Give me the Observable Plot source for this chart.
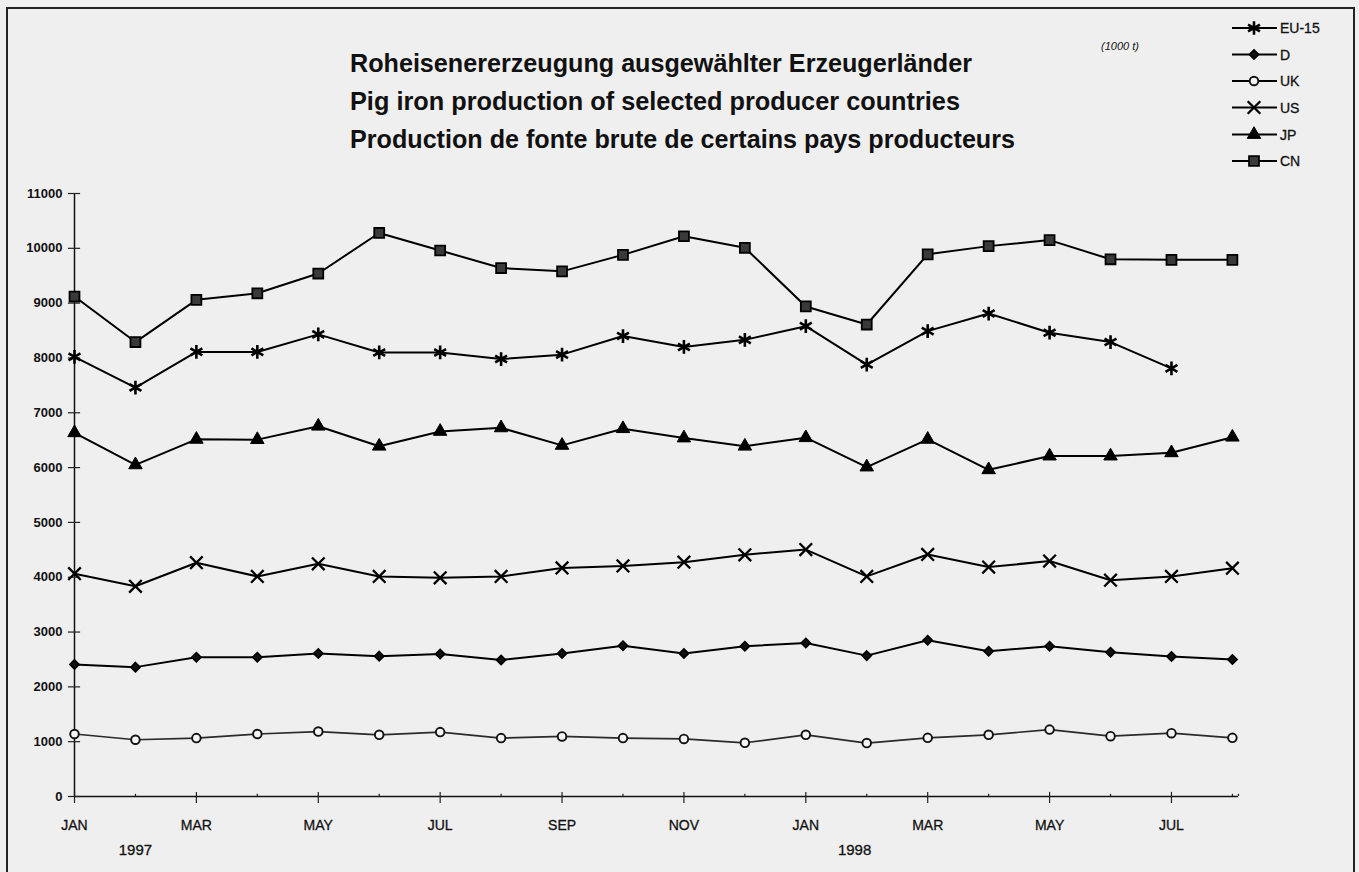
<!DOCTYPE html>
<html>
<head>
<meta charset="utf-8">
<script src="https://cdn.jsdelivr.net/npm/d3@7"></script>
<script src="https://cdn.jsdelivr.net/npm/@observablehq/plot@0.6"></script>
<style>
  html, body { margin: 0; padding: 0; background: #f4f4f4; }
  #wrap { position: relative; width: 1359px; height: 872px; background: #efefef; overflow: hidden; font-family: "Liberation Sans", Arial, sans-serif; }
  #frame { position: absolute; left: 6px; top: 7px; width: 1349px; height: 880px; border: 2px solid #222; box-sizing: border-box; }
  #chart { position: absolute; left: 0; top: 0; }
  #overlay { position: absolute; left: 0; top: 0; pointer-events: none; }
</style>
</head>
<body>
<div id="wrap">
  <div id="frame"></div>
  <div id="chart"></div>
  <svg id="overlay" width="1359" height="872"></svg>
</div>
<script>
// ---- data ----
const months = ["JAN","FEB","MAR","APR","MAY","JUN","JUL","AUG","SEP","OCT","NOV","DEC",
                "JAN","FEB","MAR","APR","MAY","JUN","JUL","AUG"];
const years = [{label: "1997", at: 1}, {label: "1998", at: 12.8}];
const yTicks = [0,1000,2000,3000,4000,5000,6000,7000,8000,9000,10000,11000];

const EU15 = [8020, 7460, 8110, 8110, 8430, 8100, 8100, 7980, 8060, 8400, 8200, 8330, 8580, 7880, 8490, 8810, 8460, 8290, 7810, null];
const D    = [2410, 2360, 2540, 2540, 2610, 2560, 2600, 2490, 2610, 2750, 2610, 2740, 2800, 2570, 2850, 2650, 2740, 2630, 2555, 2500];
const UK   = [1140, 1035, 1065, 1140, 1185, 1125, 1175, 1065, 1095, 1065, 1050, 980, 1125, 975, 1070, 1125, 1220, 1100, 1155, 1070];
const US   = [4065, 3835, 4265, 4015, 4245, 4015, 3990, 4015, 4170, 4205, 4275, 4410, 4505, 4015, 4415, 4185, 4295, 3945, 4015, 4165];
const JP   = [6635, 6050, 6515, 6510, 6755, 6390, 6660, 6725, 6405, 6710, 6540, 6390, 6545, 6010, 6515, 5960, 6210, 6210, 6270, 6555];
const CN   = [9120, 8290, 9060, 9180, 9540, 10280, 9960, 9640, 9580, 9880, 10220, 10010, 8940, 8610, 9890, 10040, 10150, 9800, 9790, 9790];

const seriesNames = ["EU-15", "D", "UK", "US", "JP", "CN"];
const seriesValues = [EU15, D, UK, US, JP, CN];
const titleLines = [
  "Roheisenererzeugung ausgewählter Erzeugerländer",
  "Pig iron production of selected producer countries",
  "Production de fonte brute de certains pays producteurs"
];
const unitLabel = "(1000 t)";

// ---- styles per series ----
const styles = {
  "EU-15": {symbol: "asterisk", r: 6.5, fill: "none", stroke: "#000", sw: 2.6},
  "D":     {symbol: "diamond2", r: 4.2, fill: "#111", stroke: "#000", sw: 1.6},
  "UK":    {symbol: "circle",   r: 4.3, fill: "#f4f4f4", stroke: "#111", sw: 1.9},
  "US":    {symbol: "times",    r: 5.8, fill: "none", stroke: "#000", sw: 2.3},
  "JP":    {symbol: "triangle", r: 5.0, fill: "#000", stroke: "#000", sw: 1},
  "CN":    {symbol: "square",   r: 5.6, fill: "#3a3a3a", stroke: "#000", sw: 1.8}
};

const rows = [];
seriesNames.forEach((s, k) => {
  seriesValues[k].forEach((v, i) => rows.push({series: s, i, value: v}));
});

const majorIdx = months.map((m, i) => i).filter(i => i % 2 === 0);
const minorIdx = months.map((m, i) => i).filter(i => i % 2 === 1);

const lineMarks = [];
const dotMarks = [];
seriesNames.forEach(s => {
  const st = styles[s];
  const d = rows.filter(r => r.series === s);
  lineMarks.push(Plot.line(d, {
    x: "i", y: "value",
    stroke: s === "UK" ? "#2a2a2a" : "#000",
    strokeWidth: s === "UK" ? 1.7 : 2
  }));
  dotMarks.push(Plot.dot(d.filter(r => r.value != null), {
    x: "i", y: "value", symbol: () => st.symbol, r: st.r,
    fill: st.fill, stroke: st.stroke, strokeWidth: st.sw
  }));
});

const chart = Plot.plot({
  width: 1359, height: 872,
  marginTop: 193, marginBottom: 76, marginLeft: 74, marginRight: 121,
  style: {background: "transparent", fontFamily: "'Liberation Sans', Arial, sans-serif", color: "#111"},
  x: {type: "linear", domain: [0, 19.1], axis: null},
  y: {type: "linear", domain: [0, 11000], axis: null},
  symbol: {type: "identity"},
  marks: [
    // axes lines
    Plot.ruleX([0], {y1: 0, y2: 11000, stroke: "#111", strokeWidth: 1.5}),
    Plot.ruleY([0], {x1: 0, x2: 19.1, stroke: "#111", strokeWidth: 1.5}),
    // y ticks (crossing)
    Plot.ruleY(yTicks, {x1: -0.1, x2: 0.1, stroke: "#222", strokeWidth: 1.2}),
    // x ticks
    Plot.ruleX(majorIdx, {y1: -128, y2: 75, stroke: "#222", strokeWidth: 1.2}),
    Plot.ruleX(minorIdx, {y1: 0, y2: 40, stroke: "#222", strokeWidth: 1.2}),
    Plot.ruleX([19.1], {y1: 0, y2: 40, stroke: "#222", strokeWidth: 1.2}),
    // y tick labels
    Plot.text(yTicks, {x: 0, y: d => d, text: d => String(d), textAnchor: "end", dx: -12,
      fontSize: 13, fontWeight: "bold", fill: "#111"}),
    // x tick labels
    Plot.text(majorIdx, {x: d => d, y: 0, text: d => months[d], dy: 29, fontSize: 14, fill: "#111",
      stroke: "#111", strokeWidth: 0.3}),
    // year labels
    Plot.text(years, {x: "at", y: 0, text: "label", dy: 54, fontSize: 15, fill: "#111",
      stroke: "#111", strokeWidth: 0.3}),
    ...lineMarks,
    ...dotMarks
  ]
});
document.getElementById("chart").appendChild(chart);

// ---- title, unit and legend overlay ----
const ov = d3.select("#overlay");
const titleWidths = [622, 610, 665];
const titleBase = [72, 110, 148];
titleLines.forEach((t, k) => {
  ov.append("text")
    .attr("x", 350).attr("y", titleBase[k])
    .attr("textLength", titleWidths[k]).attr("lengthAdjust", "spacingAndGlyphs")
    .attr("font-family", "'Liberation Sans', Arial, sans-serif")
    .attr("font-weight", "bold").attr("font-size", 26).attr("fill", "#111")
    .text(t);
});
ov.append("text")
  .attr("x", 1101).attr("y", 50)
  .attr("font-family", "'Liberation Sans', Arial, sans-serif")
  .attr("font-style", "italic").attr("font-size", 11).attr("fill", "#111")
  .text(unitLabel);

const legendY = [28, 54.5, 81, 107.5, 134.5, 161];
const symMap = {asterisk: d3.symbolAsterisk, diamond2: d3.symbolDiamond2, circle: d3.symbolCircle,
  times: d3.symbolTimes, triangle: d3.symbolTriangle, square: d3.symbolSquare};
seriesNames.forEach((s, k) => {
  const st = styles[s];
  const y = legendY[k];
  const g = ov.append("g");
  g.append("line").attr("x1", 1232).attr("x2", 1277).attr("y1", y).attr("y2", y)
    .attr("stroke", "#000").attr("stroke-width", 2);
  g.append("path")
    .attr("d", d3.symbol(symMap[st.symbol], Math.PI * st.r * st.r)())
    .attr("transform", `translate(1254,${y})`)
    .attr("fill", st.fill).attr("stroke", st.stroke).attr("stroke-width", st.sw);
  g.append("text").attr("x", 1280).attr("y", y).attr("dy", "0.36em")
    .attr("font-family", "'Liberation Sans', Arial, sans-serif")
    .attr("font-size", 14).attr("fill", "#111").attr("stroke", "#111").attr("stroke-width", 0.3)
    .text(s);
});
</script>
</body>
</html>
